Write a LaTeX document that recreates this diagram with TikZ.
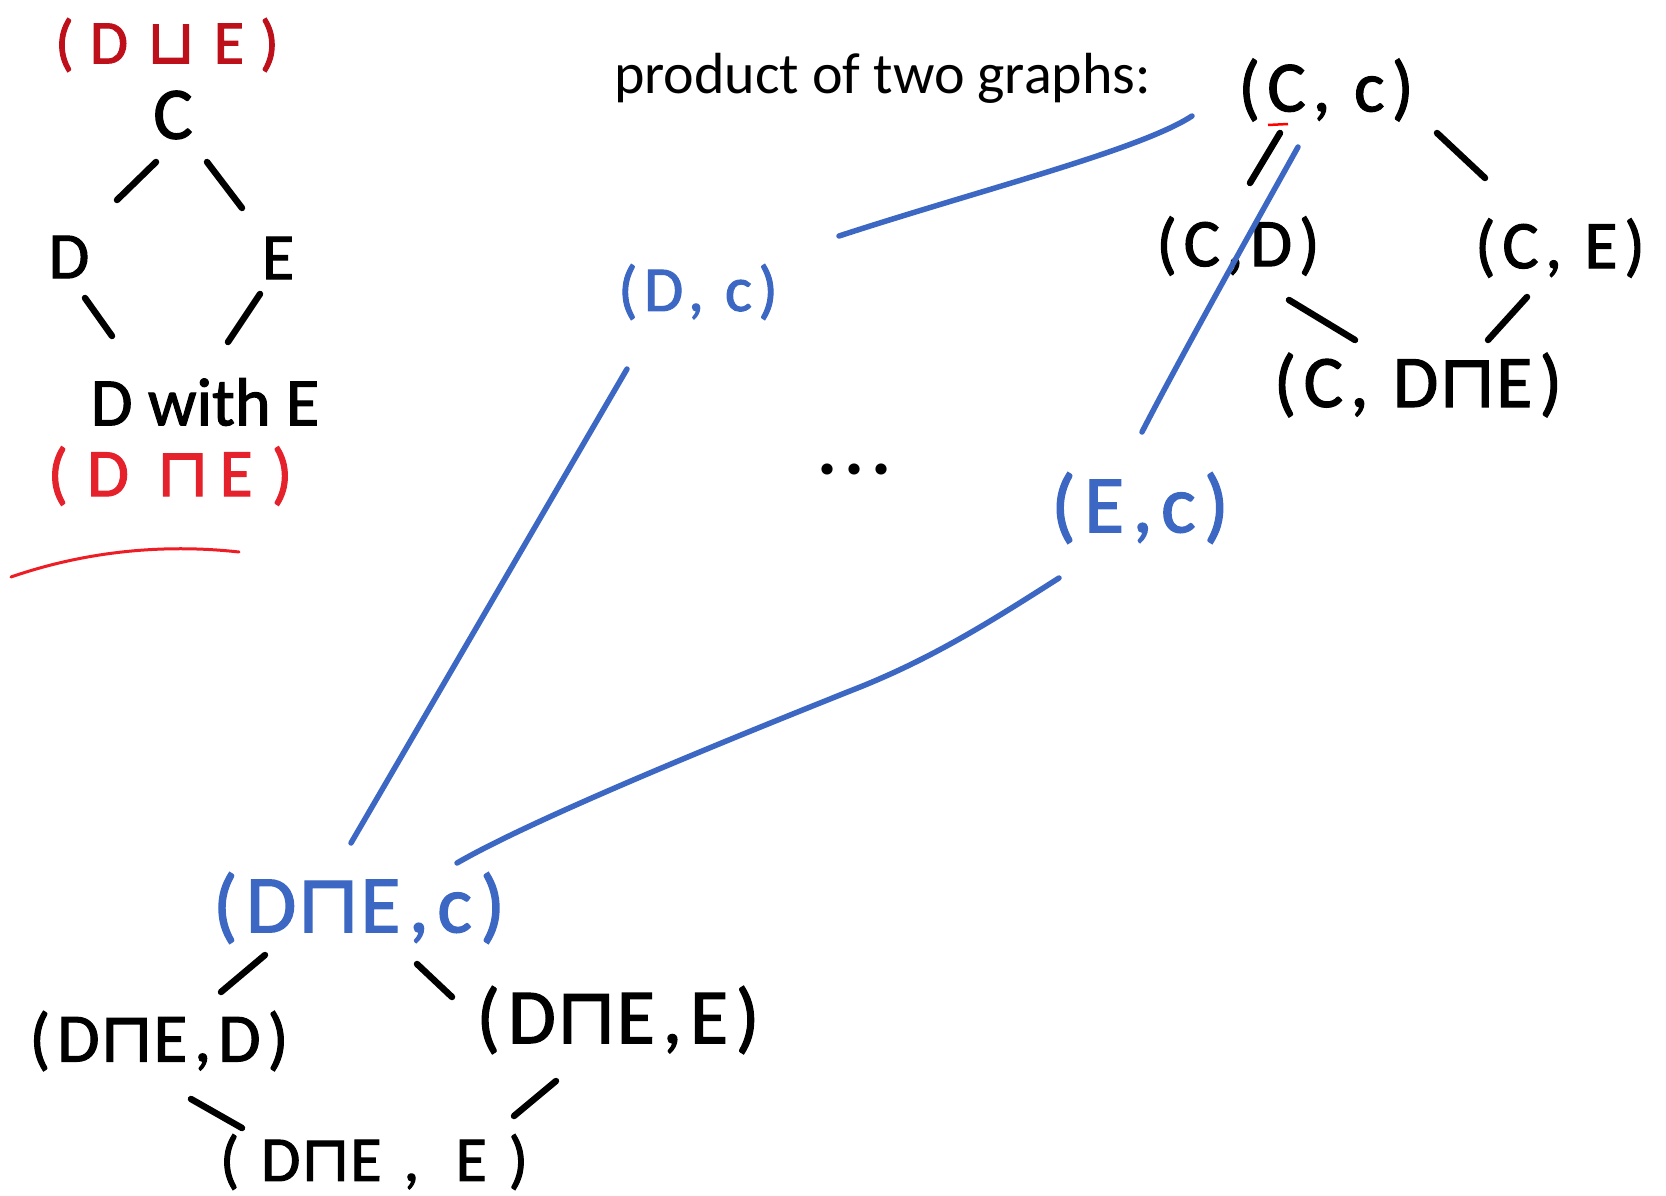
\documentclass[tikz,border=0pt]{standalone}
\usepackage{fontspec}
\setmainfont{Carlito}
\newfontfamily\hand[LetterSpace=10,FakeBold=1.6]{Carlito}
\newfontfamily\symf[LetterSpace=10,FakeBold=1.6]{DejaVu Sans}
\usetikzlibrary{calc}
\definecolor{hblue}{RGB}{60,104,196}
\definecolor{dred}{RGB}{190,16,26}
\definecolor{bred}{RGB}{229,34,43}
\definecolor{ured}{RGB}{238,28,36}
\newcommand{\sqc}{{\symf ⊓}}
\newcommand{\squ}{{\symf ⊔}}
\newcommand{\hw}[1]{\fontsize{#1}{#1}\selectfont\hand}
\tikzset{
  lbl/.style={inner sep=0pt, outer sep=0pt},
  seg/.style={line width=6.5pt, line cap=round, black},
  bl/.style={line width=5.5pt, line cap=round, hblue},
}
\begin{document}
\begin{tikzpicture}[x=1pt,y=-1pt]
\useasboundingbox (0,0) rectangle (1666,1196);
% left graph
\node[lbl, text=dred] (T1) at (167,45) {\hw{62}\addfontfeature{LetterSpace=26}(D\hspace{0.3em}\squ\hspace{0.3em}E)};
\node[lbl] (C) at (173,115) {\hw{74}C};
\node[lbl] (D) at (69,257) {\hw{66}D};
\node[lbl] (E) at (278,258) {\hw{66}E};
\node[lbl] (W) at (205,402) {\hw{68}\addfontfeature{LetterSpace=0}D with E};
\node[lbl, text=bred] (T2) at (170,476) {\hw{68}\addfontfeature{LetterSpace=28}(D\hspace{0.4em}\sqc\hspace{0.15em}E)};
\draw[seg] ($(C)+(-17,47)$) -- ($(D)+(48,-57)$);
\draw[seg] ($(C)+(34,47)$) -- ($(E)+(-36,-50)$);
\draw[seg] ($(D)+(16,41)$) -- ($(W)+(-93,-66)$);
\draw[seg] ($(E)+(-18,36)$) -- ($(W)+(23,-60)$);
\draw[ured, line width=3pt, line cap=round] (11,577) .. controls (60,560) and (140,541) .. (239,552);
% title
\node[lbl, anchor=base west] (title) at (614,94) {\fontsize{58}{58}\selectfont product of two graphs:};
% right graph
\node[lbl] (Cc) at (1326,90) {\hw{72}(C, c)};
\node[lbl] (CD) at (1238,246) {\hw{68}(C,D)};
\node[lbl] (CE) at (1560,248) {\hw{68}(C, E)};
\node[lbl] (CDE) at (1418,385) {\hw{74}(C, D\sqc E)};
\draw[seg] ($(Cc)+(-46,43)$) -- ($(CD)+(12,-63)$);
\draw[seg] ($(Cc)+(111,43)$) -- ($(CE)+(-75,-70)$);
\draw[seg] ($(CD)+(51,54)$) -- ($(CDE)+(-63,-45)$);
\draw[seg] ($(CE)+(-33,49)$) -- ($(CDE)+(70,-45)$);
\draw[red, line width=2.5pt] ($(Cc)+(-58,35)$) -- ($(Cc)+(-38,34)$);
% blue nodes
\node[lbl, text=hblue] (Dc) at (698,292) {\hw{64}(D, c)};
\node[lbl, text=hblue] (Ec) at (1140,508) {\hw{82}(E,c)};
\node[lbl, text=hblue] (BC) at (359,908) {\hw{82}(D\sqc E,c)};
\node[lbl, anchor=base west] (dots) at (817,474) {\fontsize{75}{75}\selectfont\bfseries\addfontfeature{LetterSpace=9.5}...};
% bottom graph
\node[lbl] (BD) at (159,1041) {\hw{69}(D\sqc E,D)};
\node[lbl] (BE) at (618,1020) {\hw{78}(D\sqc E,E)};
\node[lbl] (BB) at (374,1162) {\hw{64}\addfontfeature{LetterSpace=34}(D\sqc E, E)};
\draw[seg] ($(BC)+(-94,47)$) -- ($(BD)+(62,-49)$);
\draw[seg] ($(BC)+(58,56)$) -- ($(BE)+(-166,-23)$);
\draw[seg] ($(BD)+(32,58)$) -- ($(BB)+(-132,-34)$);
\draw[seg] ($(BE)+(-62,61)$) -- ($(BB)+(140,-46)$);
% blue connectors
\draw[bl] ($(Dc)+(141,-56)$) .. controls +(141,-46) and +(-52,34) .. ($(Cc)+(-134,26)$);
\draw[bl] ($(Ec)+(2,-76)$) .. controls +(40,-78) and +(-25,45) .. ($(Cc)+(-28,57)$);
\draw[bl] ($(Dc)+(-71,77)$) .. controls +(-92,158) and +(92,-158) .. ($(BC)+(-8,-65)$);
\draw[bl] ($(Ec)+(-81,70)$) .. controls +(-69,44) and +(80,-31) .. (850,691) .. controls +(-90,36) and +(83,-48) .. ($(BC)+(98,-45)$);
\end{tikzpicture}
\end{document}
